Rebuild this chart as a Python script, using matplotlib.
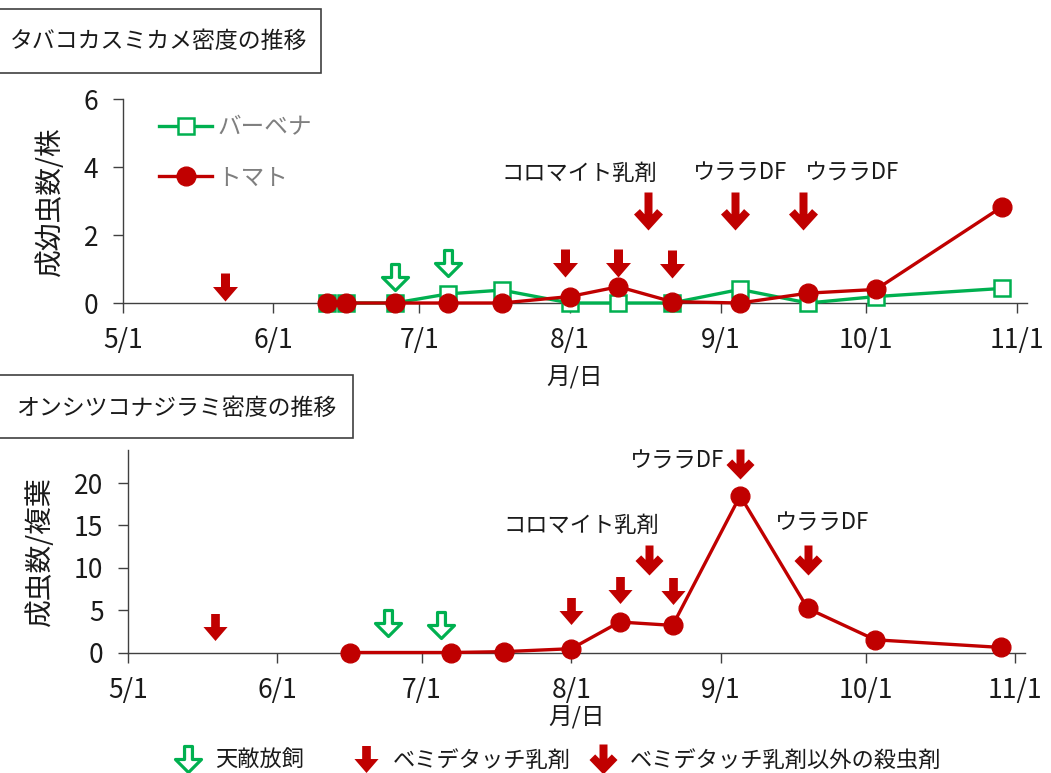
import matplotlib
matplotlib.use('Agg')
import matplotlib.pyplot as plt
from matplotlib.path import Path
from matplotlib.lines import Line2D
from matplotlib.patches import Rectangle
import datetime as dt

plt.rcParams['font.family'] = ['Noto Sans CJK JP', 'DejaVu Sans']

YEAR = 2019


def d(s):
    m, dd = s.split('/')
    return dt.date(YEAR, int(m), int(dd))


# ---------------- data ----------------
tick_dates = ['5/1', '6/1', '7/1', '8/1', '9/1', '10/1', '11/1']
tick_labels = ['5/1', '6/1', '7/1', '8/1', '9/1', '10/1', '11/1']

# Top chart: タバコカスミカメ
top_dates = ['6/12', '6/16', '6/26', '7/7', '7/18', '8/1', '8/11', '8/22',
             '9/5', '9/19', '10/3', '10/29']
verbena = [0, 0, 0, 0.27, 0.38, 0, 0, 0, 0.40, 0, 0.19, 0.43]
tomato = [0, 0, 0, 0, 0, 0.19, 0.48, 0.04, 0, 0.29, 0.40, 2.84]
top_yticks = [0, 2, 4, 6]

top_release_dates = ['6/26', '7/7']
top_release_y = [0.77, 1.18]
top_bemi_dates = ['5/22', '7/31', '8/11', '8/22']
top_bemi_y = [0.48, 1.17, 1.17, 1.14]
top_other_dates = ['8/17', '9/4', '9/18']
top_other_y = [2.72, 2.72, 2.72]
top_note_text = ['コロマイト乳剤', 'ウララDF', 'ウララDF']
top_note_dates = ['8/3', '9/5', '9/28']
top_note_y = [3.83, 3.83, 3.83]

# Bottom chart: オンシツコナジラミ
bot_dates = ['6/16', '7/7', '7/18', '8/1', '8/11', '8/22', '9/5', '9/19',
             '10/3', '10/29']
whitefly = [0, 0, 0.1, 0.45, 3.6, 3.2, 18.5, 5.2, 1.5, 0.6]
bot_yticks = [0, 5, 10, 15, 20]

bot_release_dates = ['6/24', '7/5']
bot_release_y = [3.45, 3.25]
bot_bemi_dates = ['5/19', '8/1', '8/11', '8/22']
bot_bemi_y = [3.0, 4.86, 7.4, 7.26]
bot_other_dates = ['8/17', '9/5', '9/19']
bot_other_y = [10.9, 22.3, 10.9]
bot_note_text = ['ウララDF', 'コロマイト乳剤', 'ウララDF']
bot_note_dates = ['8/23', '8/3', '9/22']
bot_note_y = [22.6, 15.05, 15.25]

legend_labels = ['天敵放飼', 'ベミデタッチ乳剤', 'ベミデタッチ乳剤以外の殺虫剤']

RED = '#C00000'
GREEN = '#00B050'
GREY = '#7F7F7F'
AXC = '#404040'
TXT = '#1a1a1a'


# ---------------- arrow marker shapes ----------------
def poly(verts):
    verts = list(verts) + [verts[0]]
    codes = [Path.MOVETO] + [Path.LINETO] * (len(verts) - 2) + [Path.CLOSEPOLY]
    return Path(verts, codes)


block_arrow = poly([(-4.5, 14), (4.5, 14), (4.5, 0.5), (12.5, 0.5), (0, -14),
                    (-12.5, 0.5), (-4.5, 0.5)])
hollow_arrow = poly([(-3.8, 12.5), (3.8, 12.5), (3.8, 0), (12.5, 0),
                     (0, -12.5), (-12.5, 0), (-3.8, 0)])
thin_arrow_top = poly([(-4, 19), (4, 19), (4, -2.7), (8.6, 2.4),
                       (14.5, -3), (0, -19), (-14.5, -3), (-8.6, 2.4),
                       (-4, -2.7)])
thin_arrow_bot = poly([(-4, 15), (4, 15), (4, 0.7), (8.3, 5.1),
                       (14, -0.5), (0, -15), (-14, -0.5), (-8.3, 5.1),
                       (-4, 0.7)])

PX = 72 / 100  # points per pixel


def style_axes(ax, yticks, ymax):
    ax.set_xlim(d('5/1'), d('11/3'))
    ax.set_ylim(0, ymax)
    ax.set_xticks([d(t) for t in tick_dates])
    ax.set_xticklabels(tick_labels)
    ax.set_yticks(yticks)
    ax.set_yticklabels([str(v) for v in yticks])
    for s in ['top', 'right']:
        ax.spines[s].set_visible(False)
    for s in ['left', 'bottom']:
        ax.spines[s].set_color(AXC)
        ax.spines[s].set_linewidth(1.0)
    ax.tick_params(axis='both', direction='out', length=7, width=1.0,
                   color=AXC, labelsize=19, pad=10.5, labelcolor=TXT)
    ax.set_facecolor('none')


def arrows(ax, dates, ys, path, ms, **kw):
    ax.plot([d(x) for x in dates], ys, linestyle='none', marker=path,
            markersize=ms, clip_on=False, zorder=5, **kw)


def notes(ax, texts, dates, ys):
    for t, x, y in zip(texts, dates, ys):
        ax.text(d(x), y, t, ha='center', va='center', fontsize=16,
                color=TXT, clip_on=False)


fig = plt.figure(figsize=(10.51, 7.73), dpi=100)
W, H = 1051, 773

# ---------------- top chart ----------------
ax1 = fig.add_axes([122.7 / W, (H - 303) / H, 904 / W, 203.7 / H])
style_axes(ax1, top_yticks, 6)
ax1.plot([d(x) for x in top_dates], verbena, color=GREEN, lw=2.4,
         marker='s', ms=11, mfc='white', mec=GREEN, mew=1.8,
         label='バーベナ', clip_on=False, zorder=3)
ax1.plot([d(x) for x in top_dates], tomato, color=RED, lw=2.4,
         marker='o', ms=13.5, mfc=RED, mec=RED,
         label='トマト', clip_on=False, zorder=4)
arrows(ax1, top_release_dates, top_release_y, hollow_arrow, 26 * PX,
       mfc='white', mec=GREEN, mew=2.3)
arrows(ax1, top_bemi_dates, top_bemi_y, block_arrow, 28 * PX,
       mfc=RED, mec='none')
arrows(ax1, top_other_dates, top_other_y, thin_arrow_top, 38 * PX,
       mfc=RED, mec='none')
notes(ax1, top_note_text, top_note_dates, top_note_y)
ax1.set_ylabel('成幼虫数/株', fontsize=20, color=TXT, va='center')
ax1.yaxis.set_label_coords(-0.080, 0.5)
ax1.set_xlabel('月/日', fontsize=17, color=TXT, va='center')
ax1.xaxis.set_label_coords(0.5, -0.368)
leg = ax1.legend(loc='upper left', bbox_to_anchor=(36.5 / 904, 1 - 17 / 203.7),
                 frameon=False, fontsize=17, handlelength=2.25,
                 handletextpad=0.2, labelspacing=1.15, borderpad=0,
                 borderaxespad=0, numpoints=1)
for t in leg.get_texts():
    t.set_color(GREY)

# ---------------- bottom chart ----------------
ax2 = fig.add_axes([127.7 / W, (H - 652.5) / H, 897 / W, 202.5 / H])
style_axes(ax2, bot_yticks, 23.9)
ax2.plot([d(x) for x in bot_dates], whitefly, color=RED, lw=2.4,
         marker='o', ms=13.5, mfc=RED, mec=RED, clip_on=False, zorder=4)
arrows(ax2, bot_release_dates, bot_release_y, hollow_arrow, 26 * PX,
       mfc='white', mec=GREEN, mew=2.3)
arrows(ax2, bot_bemi_dates, bot_bemi_y, block_arrow, 27 * PX,
       mfc=RED, mec='none')
arrows(ax2, bot_other_dates, bot_other_y, thin_arrow_bot, 30 * PX,
       mfc=RED, mec='none')
notes(ax2, bot_note_text, bot_note_dates, bot_note_y)
ax2.set_ylabel('成虫数/複葉', fontsize=20, color=TXT, va='center')
ax2.yaxis.set_label_coords(-0.098, 0.5)
ax2.set_xlabel('月/日', fontsize=17, color=TXT, va='center')
ax2.xaxis.set_label_coords(0.5, -0.323)

# ---------------- title boxes ----------------
fig.add_artist(Rectangle((-2 / W, (H - 72.7) / H), 322.7 / W, 63.4 / H,
                         transform=fig.transFigure, fill=False, ec=AXC, lw=1.2))
fig.text(10 / W, 1 - 41 / H, 'タバコカスミカメ密度の推移', fontsize=16.5,
         ha='left', va='center', color=TXT)
fig.add_artist(Rectangle((-2 / W, (H - 437.5) / H), 355 / W, 62.5 / H,
                         transform=fig.transFigure, fill=False, ec=AXC, lw=1.2))
fig.text(16 / W, 1 - 408 / H, 'オンシツコナジラミ密度の推移', fontsize=16.5,
         ha='left', va='center', color=TXT)

# ---------------- bottom legend ----------------
handles = [
    Line2D([], [], linestyle='none', marker=hollow_arrow, markersize=26 * PX,
           mfc='white', mec=GREEN, mew=2.3),
    Line2D([], [], linestyle='none', marker=block_arrow, markersize=27 * PX,
           mfc=RED, mec='none'),
    Line2D([], [], linestyle='none', marker=thin_arrow_bot, markersize=30 * PX,
           mfc=RED, mec='none'),
]
leg_x = [175, 353, 590]
for h, lab, x in zip(handles, legend_labels, leg_x):
    fig.legend([h], [lab], loc='center left',
               bbox_to_anchor=(x / W, 1 - 760 / H), frameon=False,
               fontsize=16, handlelength=1.2, handletextpad=0.6,
               borderpad=0, borderaxespad=0, numpoints=1,
               labelcolor=TXT)

fig.savefig('out.png', dpi=100)
